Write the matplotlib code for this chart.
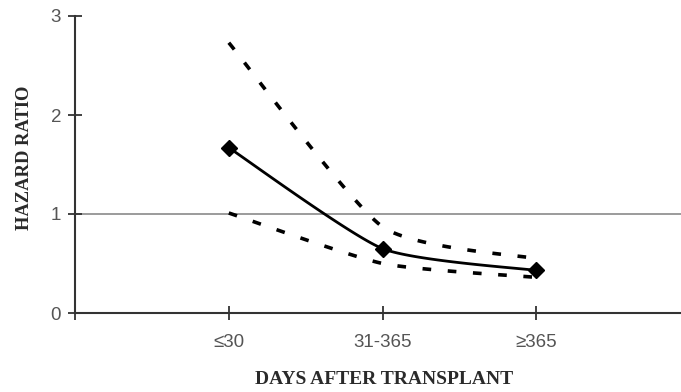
import numpy as np
import matplotlib
matplotlib.use("Agg")
import matplotlib.pyplot as plt

categories = ["\u226430", "31-365", "\u2265365"]
hazard_ratio = [1.67, 0.65, 0.43]
upper_ci = [2.73, 0.87, 0.55]
lower_ci = [1.01, 0.50, 0.36]
y_ticks = [0, 1, 2, 3]

x_pos = np.arange(1, len(categories) + 1)

fig = plt.figure(figsize=(6.81, 3.92), dpi=100)
ax = fig.add_axes([75 / 681, 1 - 313 / 392, 1 - 75 / 681, (313 - 16) / 392])


def smooth(xs, ys, k=10.0, n=40):
    """Bezier smoothing through the points with gentle tangents."""
    xs = np.asarray(xs, float)
    ys = np.asarray(ys, float)
    sx, sy = 154.0, 99.0
    P = np.column_stack([xs * sx, ys * sy])
    out = []
    for i in range(len(P) - 1):
        p0 = P[i - 1] if i > 0 else P[i]
        p1 = P[i]
        p2 = P[i + 1]
        p3 = P[i + 2] if i + 2 < len(P) else P[i + 1]
        c1 = p1 + (p2 - p0) / k
        c2 = p2 - (p3 - p1) / k
        t = np.linspace(0, 1, n)[:, None]
        seg = ((1 - t) ** 3) * p1 + 3 * ((1 - t) ** 2) * t * c1 + 3 * (1 - t) * t ** 2 * c2 + t ** 3 * p2
        out.append(seg if i == 0 else seg[1:])
    out = np.vstack(out)
    return out[:, 0] / sx, out[:, 1] / sy


# reference line at HR = 1
ax.axhline(1, color="#808080", lw=1.1, zorder=1)

for ci in (upper_ci, lower_ci):
    cx, cy = smooth(x_pos, ci)
    ax.plot(cx, cy, color="black", lw=2.6, dashes=(2.4, 4.6),
            dash_capstyle="butt", zorder=2)

mx, my = smooth(x_pos, hazard_ratio)
ax.plot(mx, my, color="black", lw=2.0, zorder=3)
ax.plot(x_pos, hazard_ratio, linestyle="none", marker="D", ms=8.5,
        color="black", zorder=4)

ax.set_xlim(0, 3.94)
ax.set_ylim(0, 3)
ax.set_yticks(y_ticks)
ax.set_yticklabels([str(v) for v in y_ticks])
ax.set_xticks([0] + list(x_pos))
ax.set_xticklabels([""] + categories)

for s in ("top", "right"):
    ax.spines[s].set_visible(False)
for s in ("left", "bottom"):
    ax.spines[s].set_color("#333333")
    ax.spines[s].set_linewidth(1.5)
    ax.spines[s].set_zorder(5)

ax.tick_params(axis="both", direction="inout", length=10, width=1.3,
               color="#333333", labelcolor="#555555", labelsize=13.5)
ax.tick_params(axis="x", pad=10)
ax.tick_params(axis="y", pad=5)
for lbl in ax.get_xticklabels() + ax.get_yticklabels():
    lbl.set_family(["Liberation Sans", "DejaVu Sans"])

fig.text(384 / 681, 1 - 380 / 392, "DAYS AFTER TRANSPLANT", ha="center", va="center",
         family="Liberation Serif", weight="bold", fontsize=14, color="#2a2a2a")
fig.text(25 / 681, 1 - 158 / 392, "HAZARD RATIO", ha="center", va="center",
         rotation=90, family="Liberation Serif", weight="bold", fontsize=13.3,
         color="#2a2a2a")

fig.savefig("out.png", dpi=100)
